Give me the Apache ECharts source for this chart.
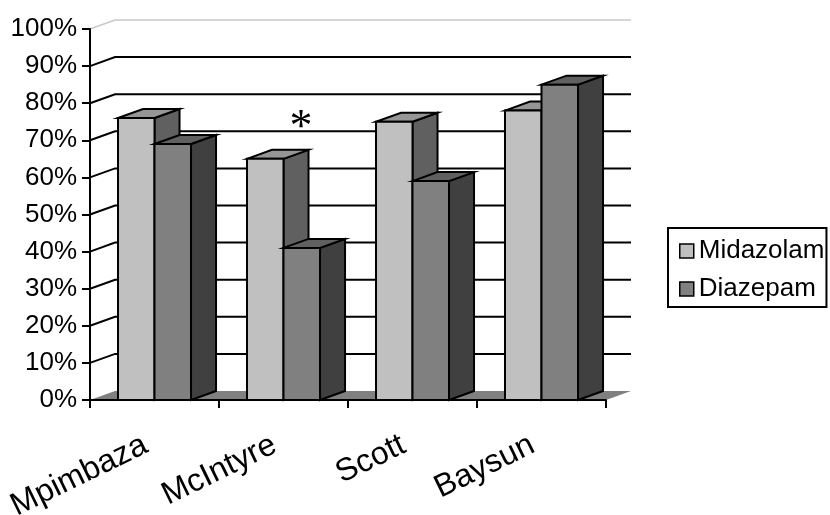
<!DOCTYPE html>
<html>
<head>
<meta charset="utf-8">
<script src="https://cdn.jsdelivr.net/npm/echarts@6/dist/echarts.min.js"></script>
<style>
  html, body { margin: 0; padding: 0; background: #fff; }
  #chart { width: 830px; height: 515px; }
</style>
</head>
<body>
<div id="chart"></div>
<script>
// data
var categories = ['Mpimbaza', 'McIntyre', 'Scott', 'Baysun'];
var midazolam = [76, 65, 75, 78];
var diazepam = [69, 41, 59, 85];
var yTicks = [0, 10, 20, 30, 40, 50, 60, 70, 80, 90, 100];
var notes = [['McIntyre', 76, '*']];

var seriesNames = ['Midazolam', 'Diazepam'];
// front, top, side shades
var shades = [
  ['#c0c0c0', '#969696', '#606060'],
  ['#808080', '#606060', '#404040']
];

var DEPTH = 0.194;   // depth of the 3d box, share of one category band
var BAR = 0.283;     // one bar width, share of band

function depth(api) {
  var dx = api.size([1, 0])[0] * DEPTH;
  return [dx, -dx * 0.36];
}

function renderFrame(params, api) {
  var v = api.value(0);
  var cs = params.coordSys;
  var L = cs.x, R = cs.x + cs.width;
  var y = api.coord([0, v])[1];
  var d = depth(api);
  if (v === 0) {
    return {
      type: 'polygon',
      shape: { points: [[L, y], [L + d[0], y + d[1]], [R + d[0], y + d[1]], [R, y]] },
      style: { fill: '#808080', stroke: null }
    };
  }
  var top = v === 100;
  return {
    type: 'polyline',
    shape: { points: [[L, y], [L + d[0], y + d[1]], [R + d[0], y + d[1]]] },
    style: { fill: null, stroke: top ? '#c8c8c8' : '#000', lineWidth: top ? 1.5 : 2 }
  };
}

function makeBarRenderer(idx) {
  return function (params, api) {
    var cat = api.value(0);
    var base = api.coord([cat, 0]);
    var top = api.coord([cat, api.value(1)]);
    var band = api.size([1, 0])[0];
    var bw = band * BAR;
    var d = depth(api);
    var x0 = base[0] - bw + idx * bw, x1 = x0 + bw;
    var yb = base[1], yt = top[1];
    var c = shades[idx];
    var st = function (fill) {
      return { fill: fill, stroke: '#000', lineWidth: 2, lineJoin: 'miter' };
    };
    return {
      type: 'group',
      children: [
        { type: 'polygon', shape: { points: [[x1, yb], [x1, yt], [x1 + d[0], yt + d[1]], [x1 + d[0], yb + d[1]]] }, style: st(c[2]) },
        { type: 'polygon', shape: { points: [[x0, yt], [x0 + d[0], yt + d[1]], [x1 + d[0], yt + d[1]], [x1, yt]] }, style: st(c[1]) },
        { type: 'polygon', shape: { points: [[x0, yb], [x0, yt], [x1, yt], [x1, yb]] }, style: st(c[0]) }
      ]
    };
  };
}

function renderNote(params, api) {
  var p = api.coord([api.value(0), api.value(1)]);
  var band = api.size([1, 0])[0];
  return {
    type: 'text',
    x: p[0] + band * 0.135,
    y: p[1] + 11,
    style: {
      text: notes[params.dataIndex][2],
      font: '46px "Liberation Serif"',
      fill: '#000',
      align: 'center',
      verticalAlign: 'middle'
    }
  };
}

var myChart = echarts.init(document.getElementById('chart'));

var option = {
  animation: false,
  backgroundColor: '#fff',
  grid: { left: 90, top: 29, right: 224, bottom: 115, containLabel: false, outerBoundsMode: 'none' },
  legend: {
    orient: 'vertical',
    left: 668,
    top: 228,
    data: seriesNames,
    icon: 'rect',
    itemWidth: 14,
    itemHeight: 14,
    itemGap: 12,
    padding: [10, 2, 5, 11],
    borderColor: '#000',
    borderWidth: 2,
    backgroundColor: '#fff',
    itemStyle: { borderColor: '#000', borderWidth: 1.5 },
    textStyle: { fontFamily: 'Liberation Sans', fontSize: 26, lineHeight: 26, color: '#000' }
  },
  xAxis: {
    type: 'category',
    data: categories,
    z: 5,
    axisLine: { show: true, lineStyle: { color: '#000', width: 2 } },
    axisTick: { show: true, length: 8, lineStyle: { color: '#000', width: 2 } },
    axisLabel: {
      rotate: 26,
      margin: 39,
      padding: [0, 10, 0, 0],
      fontFamily: 'Liberation Sans',
      fontSize: 32,
      color: '#000'
    },
    splitLine: { show: false }
  },
  yAxis: {
    type: 'value',
    min: 0,
    max: 100,
    interval: 10,
    z: 5,
    axisLine: { show: true, lineStyle: { color: '#000', width: 2 } },
    axisTick: { show: true, length: 8, lineStyle: { color: '#000', width: 2 } },
    axisLabel: {
      formatter: '{value}%',
      margin: 13,
      fontFamily: 'Liberation Sans',
      fontSize: 26,
      color: '#000'
    },
    splitLine: { show: false }
  },
  series: [
    {
      name: 'frame',
      type: 'custom',
      z: 1,
      silent: true,
      renderItem: renderFrame,
      data: yTicks.map(function (v) { return [v]; }),
      encode: { y: 0 }
    },
    {
      name: seriesNames[0],
      type: 'custom',
      z: 2,
      itemStyle: { color: shades[0][0] },
      renderItem: makeBarRenderer(0),
      data: midazolam.map(function (v, i) { return [i, v]; })
    },
    {
      name: seriesNames[1],
      type: 'custom',
      z: 3,
      itemStyle: { color: shades[1][0] },
      renderItem: makeBarRenderer(1),
      data: diazepam.map(function (v, i) { return [i, v]; })
    },
    {
      name: 'note',
      type: 'custom',
      z: 4,
      silent: true,
      renderItem: renderNote,
      data: notes.map(function (n) { return [categories.indexOf(n[0]), n[1]]; })
    }
  ]
};

myChart.setOption(option);
</script>
</body>
</html>
